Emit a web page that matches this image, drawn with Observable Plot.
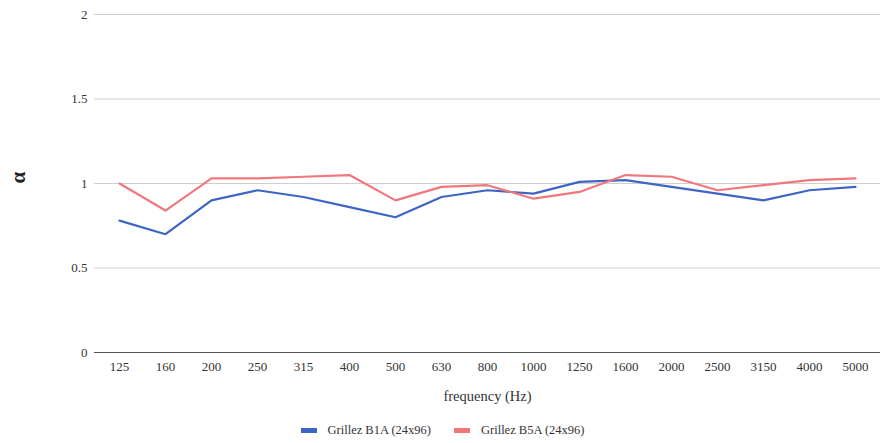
<!DOCTYPE html>
<html>
<head>
<meta charset="utf-8">
<script src="https://cdn.jsdelivr.net/npm/d3@7"></script>
<script src="https://cdn.jsdelivr.net/npm/@observablehq/plot@0.6"></script>
<style>
  html, body { margin: 0; padding: 0; background: #fff; overflow: hidden; font-family: "Liberation Serif", "Times New Roman", serif; }
  #chart svg { display: block; }
  #chart svg text { font-family: "Liberation Serif", "Times New Roman", serif !important; }
  #legend { display: flex; justify-content: center; align-items: center; gap: 23px; font-size: 12.5px; color: #333; height: 25px; padding-left: 0px; }
  .item { display: flex; align-items: center; gap: 11px; }
  .sw { width: 16px; height: 5px; display: inline-block; }
</style>
</head>
<body>
<div id="chart"></div>
<div id="legend"></div>
<script>
const frequencies = ["125","160","200","250","315","400","500","630","800","1000","1250","1600","2000","2500","3150","4000","5000"];
const seriesNames = ["Grillez B1A (24x96)", "Grillez B5A (24x96)"];
const b1a = [0.78,0.70,0.90,0.96,0.92,0.86,0.80,0.92,0.96,0.94,1.01,1.02,0.98,0.94,0.90,0.96,0.98];
const b5a = [1.00,0.84,1.03,1.03,1.04,1.05,0.90,0.98,0.99,0.91,0.95,1.05,1.04,0.96,0.99,1.02,1.03];
const yTicks = [0, 0.5, 1, 1.5, 2];
const colors = ["#3d66c4", "#f2777c"];

const data = [];
frequencies.forEach((f, i) => {
  data.push({freq: f, value: b1a[i], series: seriesNames[0]});
  data.push({freq: f, value: b5a[i], series: seriesNames[1]});
});

const font = "'Liberation Serif', 'Times New Roman', serif";
const chart = Plot.plot({
  width: 885,
  height: 418,
  marginLeft: 94,
  marginRight: 5,
  marginTop: 14,
  marginBottom: 66,
  style: {fontFamily: font, fontSize: "13px", color: "#333", background: "#fff"},
  x: {type: "point", domain: frequencies, padding: 0.5},
  y: {domain: [0, 2]},
  color: {domain: seriesNames, range: colors},
  marks: [
    Plot.ruleY(yTicks.filter(d => d > 0), {stroke: "#cfcfcf", strokeWidth: 1}),
    Plot.ruleY([0], {stroke: "#555", strokeWidth: 1.2}),
    Plot.axisY({ticks: yTicks, tickSize: 0, tickPadding: 7, label: null, tickFormat: d => String(d), fill: "#333", fontSize: 13}),
    Plot.axisX({tickSize: 0, tickPadding: 9, label: null, fill: "#333", fontSize: 13}),
    Plot.line(data, {x: "freq", y: "value", z: "series", stroke: "series", strokeWidth: 2.2, curve: "linear"}),
    Plot.text(["frequency (Hz)"], {frameAnchor: "bottom", dy: 48, text: d => d, fontSize: 14.5, fill: "#333"}),
    Plot.text(["α"], {frameAnchor: "left", dx: -76, rotate: -90, text: d => d, fontSize: 21, fontWeight: "bold", fill: "#222"})
  ]
});
document.getElementById("chart").appendChild(chart);

const legend = document.getElementById("legend");
seriesNames.forEach((name, i) => {
  const item = document.createElement("div");
  item.className = "item";
  const sw = document.createElement("span");
  sw.className = "sw";
  sw.style.background = colors[i];
  const label = document.createElement("span");
  label.textContent = name;
  item.appendChild(sw);
  item.appendChild(label);
  legend.appendChild(item);
});
</script>
</body>
</html>
